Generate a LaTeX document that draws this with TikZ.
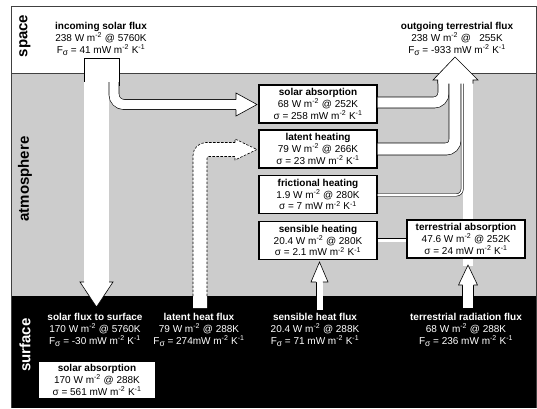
\documentclass[tikz,border=0pt]{standalone}
\usepackage{fontspec}
\setmainfont{Liberation Sans}
\definecolor{atm}{RGB}{204,204,204}
\newcommand\wm{W m\textsuperscript{-2}}
\newcommand\mwk{mW m\textsuperscript{-2} K\textsuperscript{-1}}
\newcommand\Fs{F\raisebox{-0.45ex}{\fontsize{8.5}{8.5}\selectfont σ}}
\begin{document}
\begin{tikzpicture}[x=1pt,y=-1pt,
  band/.style={draw=black,line width=0.6pt,double=white,line cap=butt},
  box/.style={draw=black,line width=1.2pt,fill=white,inner sep=0pt,minimum width=118pt,minimum height=38pt,align=center,font=\fontsize{10}{11.6}\selectfont},
  lbl/.style={align=center,font=\fontsize{10}{12.2}\selectfont,inner sep=0pt},
  zone/.style={font=\fontsize{15}{15}\selectfont\bfseries,rotate=90,inner sep=0pt},
  hdl/.style={draw=black,line width=0.6pt,line join=miter},
  dsh/.style={draw=black,line width=0.6pt,dash pattern=on 2.5pt off 1.5pt}]
\useasboundingbox (0,0) rectangle (537,408);
% zones
\fill[white] (0,0) rectangle (537,408);
\fill[atm] (11,73) rectangle (536,296);
\fill[black] (11,296) rectangle (536,408);
\draw[black!75,line width=0.8pt] (11,408) -- (11,6) -- (536,6) -- (536,408);
\draw[black!75,line width=0.8pt] (11,73) -- (536,73);
\node[zone] (zsp) at (25,36) {space};
\node[zone] (zat) at (25,179) {atmosphere};
\node[zone,text=white] (zsu) at (25,345) {surface};
% incoming solar flux
\fill[white] (84,58) rectangle (119,86);
\draw[line width=0.6pt] (84,86) -- (84,58) -- (119,58) -- (119,86);
\draw[band,double distance=24.4pt] (96.5,82) -- (96.5,283);
\draw[band,double distance=9.4pt,rounded corners=10pt] (114,82) -- (114,104.5) -- (237,104.5);
\fill[white] (80,282) -- (113,282) -- (96.5,307) -- cycle;
\draw[hdl] (84,282) -- (80,282) -- (96.5,307) -- (113,282) -- (109,282);
\fill[white] (236,93) -- (257,104.5) -- (236,116) -- cycle;
\draw[hdl] (236,99.5) -- (236,93) -- (257,104.5) -- (236,116) -- (236,109.5);
% latent heat flux (dashed)
\draw[white,line width=14pt,rounded corners=6pt] (200,308) -- (200,149.5) -- (237,149.5);
\draw[dsh,rounded corners=13pt] (193,296) -- (193,142.5) -- (236,142.5);
\draw[dsh,rounded corners=2pt] (207,296) -- (207,156.5) -- (236,156.5);
\fill[white] (235,139) -- (257,149.5) -- (235,160) -- cycle;
\draw[dsh] (235,142.5) -- (235,139) -- (257,149.5) -- (235,160) -- (235,156.5);
% boxes
\node[box] (sa) at (318,104) {\textbf{solar absorption}\\68 \wm{} @ 252K\\σ = 258 \mwk};
\node[box] (lh) at (318,149) {\textbf{latent heating}\\79 \wm{} @ 266K\\σ = 23 \mwk};
\node[box] (fh) at (318,194.5) {\textbf{frictional heating}\\1.9 \wm{} @ 280K\\σ = 7 \mwk};
\node[box] (sh) at (318,240.5) {\textbf{sensible heating}\\20.4 \wm{} @ 280K\\σ = 2.1 \mwk};
% outgoing bands
\draw[band,double distance=9.4pt] (468,266) -- (468,81);
\draw[band,double distance=10.4pt,rounded corners=9.5pt] (sa.east|-0,102.5) -- (443.5,102.5) -- (443.5,81);
\draw[band,double distance=11.4pt,rounded corners=9pt] (lh.east|-0,149) -- (455,149) -- (455,81);
\draw[band,double distance=1.6pt,rounded corners=6pt] (fh.east|-0,195) -- (462.2,195) -- (462.2,81);
\node[box] (ta) at (466,239) {\textbf{terrestrial absorption}\\47.6 \wm{} @ 252K\\σ = 24 \mwk};
\draw[band,double distance=3pt] (sh.east|-0,240) -- (ta.west|-0,240);
% outgoing head
\fill[white] (433,80) -- (455,57) -- (478,80) -- (473,80) -- (473,83.5) -- (437.7,83.5) -- (437.7,80) -- cycle;
\draw[hdl] (437.7,83.5) -- (437.7,80) -- (433,80) -- (455,57) -- (478,80) -- (473,80) -- (473,83.5);
% sensible heat flux arrow
\draw[band,double distance=6pt] (319.5,310) -- (319.5,281.5);
\fill[white] (311,282) -- (319.5,262) -- (328,282) -- cycle;
\draw[hdl] (316.2,282) -- (311,282) -- (319.5,262) -- (328,282) -- (322.8,282);
% terrestrial radiation flux arrow
\draw[band,double distance=10.4pt] (468,308) -- (468,284.5);
\fill[white] (458.5,285) -- (468,265) -- (477.5,285) -- cycle;
\draw[hdl] (462.5,285) -- (458.5,285) -- (468,265) -- (477.5,285) -- (473.5,285);
% surface solar absorption box
\node[box,draw=none,minimum width=116pt,minimum height=36pt] (ssa) at (97,380) {\textbf{solar absorption}\\170 \wm{} @ 288K\\σ = 561 \mwk};
% top labels
\node[lbl] (inc) at (101,39) {\textbf{incoming solar flux}\\238 \wm{} @ 5760K\\\Fs{} = 41 \mwk};
\node[lbl] (out) at (457,39) {\textbf{outgoing terrestrial flux}\\238 \wm{} @ \ \ 255K\\\Fs{} = -933 \mwk};
% surface labels
\node[lbl,text=white] (sfs) at (95,330) {\textbf{solar flux to surface}\\170 \wm{} @ 5760K\\\Fs{} = -30 \mwk};
\node[lbl,text=white] (lhf) at (199,330) {\textbf{latent heat flux}\\79 \wm{} @ 288K\\\Fs{} = 274\mwk};
\node[lbl,text=white] (shf) at (315,330) {\textbf{sensible heat flux}\\20.4 \wm{} @ 288K\\\Fs{} = 71 \mwk};
\node[lbl,text=white] (trf) at (466,330) {\textbf{terrestrial radiation flux}\\68 \wm{} @ 288K\\\Fs{} = 236 \mwk};
\end{tikzpicture}
\end{document}
